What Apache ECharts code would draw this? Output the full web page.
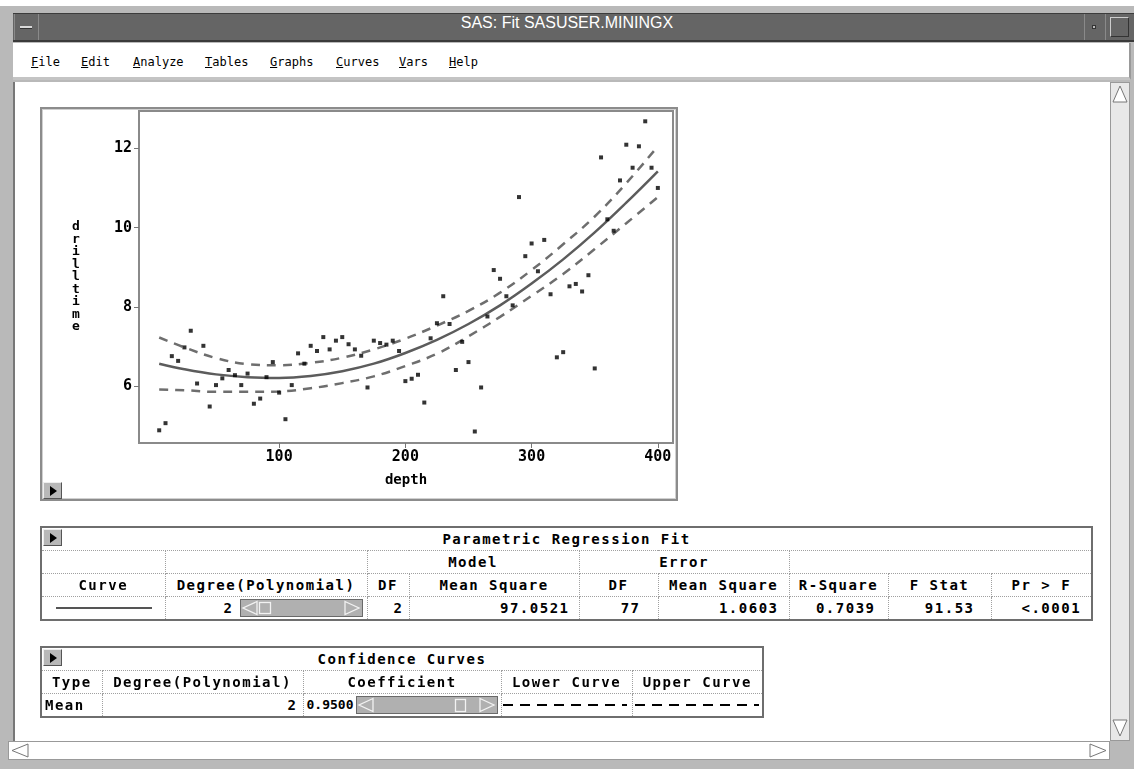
<!DOCTYPE html>
<html><head><meta charset="utf-8">
<script src="https://cdn.jsdelivr.net/npm/echarts@6/dist/echarts.min.js"></script>
<style>
body{margin:0;width:1134px;height:769px;background:#b9b9b9;position:relative;overflow:hidden;font-family:"DejaVu Sans Mono",monospace;}
.abs{position:absolute;box-sizing:border-box;}
.menu{position:absolute;top:55px;font:12px "DejaVu Sans Mono";color:#000;}
.menu u{text-decoration:underline;}
.t{position:absolute;border-collapse:collapse;table-layout:fixed;border:2px solid #6e6e6e;background:#fff;font:bold 14px "DejaVu Sans Mono";letter-spacing:1.5px;color:#000;}
.t td{border:1px dotted #a0a0a0;padding:0 5px;white-space:nowrap;overflow:hidden;height:22px;line-height:22px;}
.c{text-align:center;}
.r{text-align:right;}
.btn{position:absolute;width:19px;height:17px;background:#b8b8b8;border-top:1px solid #eee;border-left:1px solid #eee;border-right:1px solid #555;border-bottom:1px solid #555;box-sizing:border-box;}
.btn:after{content:"";position:absolute;left:6px;top:3px;border-left:7px solid #000;border-top:5px solid transparent;border-bottom:5px solid transparent;}
</style></head><body>
<div class="abs" style="left:0;top:0;width:1134px;height:6px;background:#fff"></div>
<!-- title bar -->
<div class="abs" style="left:13px;top:13px;width:1121px;height:29px;background:#656565;border-top:1px solid #3c3c3c;border-bottom:2px solid #3a3a3a"></div>
<div class="abs" style="left:14px;top:14px;width:25px;height:26px;border-right:1px solid #8a8a8a;border-left:1px solid #8a8a8a"></div>
<div class="abs" style="left:20px;top:26px;width:12px;height:3px;background:#d8d8d8;border-bottom:1px solid #333"></div>
<div class="abs" style="left:0;top:14px;width:1134px;height:27px;text-align:center;line-height:27px;color:#fff;font:16px 'Liberation Sans',sans-serif">SAS: Fit SASUSER.MININGX</div>
<div class="abs" style="left:1084px;top:14px;width:22px;height:26px;border-left:1px solid #8a8a8a;border-right:1px solid #8a8a8a"></div>
<div class="abs" style="left:1092px;top:25px;width:4px;height:4px;background:#bbb;border:1px solid #333"></div>
<div class="abs" style="left:1110px;top:17px;width:19px;height:20px;border:1px solid #ccc;border-right-color:#333;border-bottom-color:#333"></div>
<!-- menu bar -->
<div class="abs" style="left:13px;top:43px;width:1118px;height:37px;background:#fff;border-bottom:3px solid #c4c4c4;border-right:2px solid #999"></div>
<div class="menu" style="left:31px"><u>F</u>ile</div>
<div class="menu" style="left:81px"><u>E</u>dit</div>
<div class="menu" style="left:133px"><u>A</u>nalyze</div>
<div class="menu" style="left:205px"><u>T</u>ables</div>
<div class="menu" style="left:270px"><u>G</u>raphs</div>
<div class="menu" style="left:336px"><u>C</u>urves</div>
<div class="menu" style="left:399px"><u>V</u>ars</div>
<div class="menu" style="left:449px"><u>H</u>elp</div>
<!-- content area -->
<div class="abs" style="left:13px;top:82px;width:1097px;height:659px;background:#fff;border-left:2px solid #777"></div>
<!-- vertical scrollbar -->
<div class="abs" style="left:1110px;top:82px;width:20px;height:659px;background:#e8e8e8;border:1px solid #999"></div>
<svg class="abs" style="left:1111px;top:84px" width="18" height="20"><polygon points="9,2 16,18 2,18" fill="#fff" stroke="#777"/></svg>
<svg class="abs" style="left:1111px;top:718px" width="18" height="20"><polygon points="2,2 16,2 9,18" fill="#fff" stroke="#777"/></svg>
<!-- horizontal scrollbar -->
<div class="abs" style="left:8px;top:741px;width:1102px;height:19px;background:#fff;border:1px solid #999"></div>
<svg class="abs" style="left:10px;top:742px" width="22" height="17"><polygon points="2,8.5 18,2 18,15" fill="#fff" stroke="#777"/></svg>
<svg class="abs" style="left:1086px;top:742px" width="22" height="17"><polygon points="20,8.5 4,2 4,15" fill="#fff" stroke="#777"/></svg>

<!-- chart panel -->
<div class="abs" style="left:40px;top:107px;width:638px;height:394px;border:2px solid #8c8c8c;box-shadow:inset 0 0 0 1px #d0d0d0;background:#fff"></div>
<div id="chart" class="abs" style="left:40px;top:107px;width:638px;height:394px"></div>
<div class="btn" style="left:43px;top:482px"></div>

<!-- Parametric Regression Fit table -->
<table class="t" style="left:40px;top:526px;width:1051px">
<colgroup><col style="width:124px"><col style="width:202px"><col style="width:42px"><col style="width:170px"><col style="width:79px"><col style="width:131px"><col style="width:99px"><col style="width:103px"><col style="width:101px"></colgroup>
<tr><td colspan="9" class="c">Parametric Regression Fit</td></tr>
<tr><td></td><td></td><td colspan="2" class="c">Model</td><td colspan="2" class="c">Error</td><td colspan="3"></td></tr>
<tr><td class="c">Curve</td><td class="c">Degree(Polynomial)</td><td class="c">DF</td><td class="c">Mean Square</td><td class="c">DF</td><td class="c">Mean Square</td><td class="c">R-Square</td><td class="c">F Stat</td><td class="c">Pr &gt; F</td></tr>
<tr><td></td><td class="r" style="padding-right:133px">2</td><td class="r">2</td><td class="r" style="padding-right:9px">97.0521</td><td class="r" style="padding-right:17px">77</td><td class="r" style="padding-right:10px">1.0603</td><td class="r" style="padding-right:12px">0.7039</td><td class="r" style="padding-right:16px">91.53</td><td class="r" style="padding-right:10px">&lt;.0001</td></tr>
</table>
<div class="btn" style="left:43px;top:529px"></div>
<div class="abs" style="left:56px;top:607px;width:96px;height:2px;background:#555"></div>
<svg class="abs" style="left:240px;top:599px" width="123" height="18">
<rect x="0.5" y="0.5" width="122" height="17" fill="#b0b0b0" stroke="#6a6a6a"/>
<polygon points="17,2.5 3,9 17,15.5" fill="none" stroke="#f2f2f2" stroke-width="1.3"/>
<rect x="19.5" y="3.5" width="11" height="11" fill="none" stroke="#f2f2f2" stroke-width="1.3"/>
<polygon points="105,2.5 119,9 105,15.5" fill="none" stroke="#f2f2f2" stroke-width="1.3"/>
</svg>

<!-- Confidence Curves table -->
<table class="t" style="left:40px;top:646px;width:722px">
<colgroup><col style="width:61px"><col style="width:201px"><col style="width:198px"><col style="width:131px"><col style="width:131px"></colgroup>
<tr><td colspan="5" class="c">Confidence Curves</td></tr>
<tr><td class="c" style="padding:0 3px">Type</td><td class="c">Degree(Polynomial)</td><td class="c">Coefficient</td><td class="c">Lower Curve</td><td class="c">Upper Curve</td></tr>
<tr><td style="padding:0 3px">Mean</td><td class="r">2</td><td style="padding-left:3px;letter-spacing:0;font-size:13px">0.9500</td><td></td><td></td></tr>
</table>
<div class="btn" style="left:43px;top:649px"></div>
<svg class="abs" style="left:356px;top:696px" width="142" height="18">
<rect x="0.5" y="0.5" width="141" height="17" fill="#b0b0b0" stroke="#6a6a6a"/>
<polygon points="17,2.5 3,9 17,15.5" fill="none" stroke="#f2f2f2" stroke-width="1.3"/>
<rect x="99.5" y="3.5" width="10" height="12" fill="none" stroke="#f2f2f2" stroke-width="1.3"/>
<polygon points="124,2.5 138,9 124,15.5" fill="none" stroke="#f2f2f2" stroke-width="1.3"/>
</svg>
<svg class="abs" style="left:503px;top:703px" width="124" height="4"><line x1="0" y1="2" x2="124" y2="2" stroke="#000" stroke-width="2" stroke-dasharray="10,7"/></svg>
<svg class="abs" style="left:635px;top:703px" width="124" height="4"><line x1="0" y1="2" x2="124" y2="2" stroke="#000" stroke-width="2" stroke-dasharray="10,7"/></svg>

<script>
// ---- data ----
const depth = [5,10,15,20,25,30,35,40,45,50,55,60,65,70,75,80,85,90,95,100,
  105,110,115,120,125,130,135,140,145,150,155,160,165,170,175,180,185,190,195,200,
  205,210,215,220,225,230,235,240,245,250,255,260,265,270,275,280,285,290,295,300,
  305,310,315,320,325,330,335,340,345,350,355,360,365,370,375,380,385,390,395,400];
const drilltime = [4.89,5.07,6.76,6.64,6.98,7.40,6.07,7.02,5.49,6.03,6.20,6.41,6.28,6.03,6.32,5.56,5.69,6.23,6.61,5.84,
  5.17,6.03,6.83,6.57,7.02,6.89,7.24,6.93,7.15,7.24,7.06,6.93,6.77,5.97,7.15,7.09,7.05,7.15,6.89,6.13,
  6.19,6.29,5.59,7.21,7.59,8.27,7.57,6.41,7.12,6.61,4.86,5.97,7.76,8.93,8.71,8.27,8.04,10.77,9.28,9.60,
  8.90,9.69,8.32,6.73,6.86,8.52,8.58,8.39,8.80,6.45,11.77,10.21,9.92,11.19,12.09,11.51,12.05,12.68,11.51,11.00];
const curveDepth = [5,25,50,75,100,125,150,175,200,225,250,275,300,325,350,375,400];
const fitMean  = [6.57,6.43,6.30,6.23,6.21,6.26,6.38,6.57,6.84,7.17,7.57,8.04,8.59,9.20,9.88,10.63,11.42];
const upperCL  = [7.23,6.98,6.71,6.56,6.53,6.59,6.72,6.93,7.20,7.53,7.90,8.36,8.93,9.58,10.28,11.12,12.05];
const lowerCL  = [5.92,5.90,5.86,5.86,5.87,5.95,6.08,6.25,6.51,6.82,7.26,7.75,8.28,8.83,9.46,10.11,10.77];
const xTicks = [100,200,300,400];
const yTicks = [6,8,10,12];

const pts = depth.map((d,i)=>[d, drilltime[i]]);
const pair = ys => curveDepth.map((d,i)=>[d, ys[i]]);
const FONT = 'DejaVu Sans Mono';
const chart = echarts.init(document.getElementById('chart'));
chart.setOption({
  animation:false,
  grid:{left:99, top:4, width:534, height:332, show:true, borderColor:'#8a8a8a', borderWidth:2},
  xAxis:{type:'value', min:-11, max:412,
    name:'depth', nameLocation:'middle', nameGap:37,
    nameTextStyle:{fontFamily:FONT, fontWeight:'bold', fontSize:14, color:'#000', align:'center', verticalAlign:'middle'},
    axisLine:{show:true, onZero:false, lineStyle:{color:'#8a8a8a', width:2}},
    axisTick:{show:true, length:5, customValues:xTicks, lineStyle:{color:'#777', width:1}},
    axisLabel:{customValues:xTicks, margin:7, fontFamily:FONT, fontWeight:'bold', fontSize:15, color:'#000'},
    splitLine:{show:false}},
  yAxis:{type:'value', min:4.57, max:12.94,
    name:'d\nr\ni\nl\nl\nt\ni\nm\ne', nameLocation:'middle', nameRotate:0, nameGap:63,
    nameTextStyle:{fontFamily:FONT, fontWeight:'bold', fontSize:13, lineHeight:12.5, color:'#000', align:'center', verticalAlign:'middle'},
    axisLine:{show:true, onZero:false, lineStyle:{color:'#8a8a8a', width:2}},
    axisTick:{show:true, length:5, customValues:yTicks, lineStyle:{color:'#777', width:1}},
    axisLabel:{customValues:yTicks, margin:7, fontFamily:FONT, fontWeight:'bold', fontSize:15, color:'#000'},
    splitLine:{show:false}},
  series:[
    {type:'line', data:pair(fitMean), smooth:0.4, symbol:'none', lineStyle:{color:'#5c5c5c', width:2.5}, z:2},
    {type:'line', data:pair(upperCL), smooth:0.4, symbol:'none', lineStyle:{color:'#6e6e6e', width:2.5, type:[9,7]}, z:2},
    {type:'line', data:pair(lowerCL), smooth:0.4, symbol:'none', lineStyle:{color:'#6e6e6e', width:2.5, type:[9,7]}, z:2},
    {type:'scatter', data:pts, symbol:'rect', symbolSize:4, itemStyle:{color:'#000'}, z:3}
  ]
});
</script>
</body></html>
